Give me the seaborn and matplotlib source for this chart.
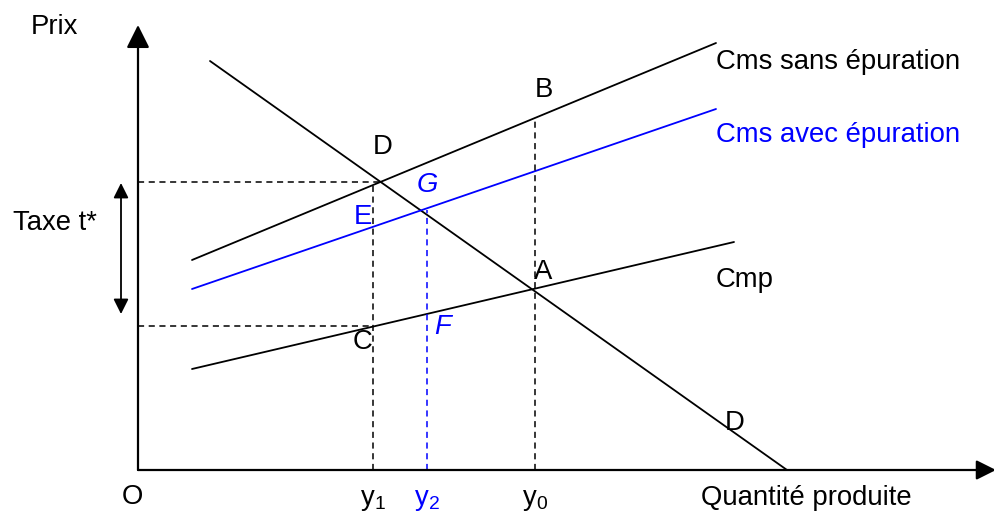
import numpy as np
import pandas as pd
import seaborn as sns
import matplotlib.pyplot as plt

# curves of the diagram (quantity, price), origin at O
demande_x = [72, 649]
demande_y = [409, 0]
cms_sans_x = [54, 578]
cms_sans_y = [210, 427]
cms_avec_x = [54, 578]
cms_avec_y = [181, 361]
cmp_x = [54, 596]
cmp_y = [101, 228]

# guide levels
y1, y2, y0 = 235, 289, 397
prix_haut, prix_bas = 288, 144
prix_d, prix_g, prix_b = 288, 260, 353

if __name__ == '__main__':
    sns.set_theme(style='white')
    plt.rcParams['font.family'] = ['Liberation Sans', 'DejaVu Sans']
    plt.rcParams['text.color'] = 'black'
    plt.rcParams['mathtext.fontset'] = 'custom'
    plt.rcParams['mathtext.rm'] = 'Liberation Sans'
    plt.rcParams['mathtext.it'] = 'Liberation Sans:italic'

    df = pd.DataFrame({
        'x': demande_x + cms_sans_x + cms_avec_x + cmp_x,
        'y': demande_y + cms_sans_y + cms_avec_y + cmp_y,
        'courbe': ['D'] * 2 + ['Cms sans'] * 2 + ['Cms avec'] * 2 + ['Cmp'] * 2,
    })
    pal = {'D': 'black', 'Cms sans': 'black', 'Cms avec': '#0000ff', 'Cmp': 'black'}

    fig = plt.figure(figsize=(9.95, 5.14), dpi=100)
    ax = fig.add_axes([0, 0, 1, 1])
    ax.set_xlim(-138, 857)
    ax.set_ylim(-44, 470)
    ax.axis('off')

    sns.lineplot(ax=ax, data=df, x='x', y='y', hue='courbe', palette=pal,
                 estimator=None, sort=False, legend=False, linewidth=1.3)

    # dashed guides
    dash = dict(linestyle=(0, (4, 3)), linewidth=1.1)
    ax.plot([0, 242], [prix_haut, prix_haut], color='black', **dash)
    ax.plot([0, y1], [prix_bas, prix_bas], color='black', **dash)
    ax.plot([y1, y1], [0, prix_d], color='black', **dash)
    ax.plot([y2, y2], [0, prix_g], color='#0000ff', **dash)
    ax.plot([y0, y0], [0, prix_b], color='black', **dash)

    # axes with arrows
    ax.annotate('', xy=(0, 445), xytext=(0, 0), annotation_clip=False,
                arrowprops=dict(arrowstyle='-|>,head_length=1.4,head_width=0.7',
                                mutation_scale=10, lw=1.6, color='black',
                                shrinkA=0, shrinkB=0))
    ax.annotate('', xy=(858, 0), xytext=(0, 0), annotation_clip=False,
                arrowprops=dict(arrowstyle='-|>,head_length=1.2,head_width=0.6',
                                mutation_scale=10, lw=1.6, color='black',
                                shrinkA=0, shrinkB=0))
    # tax double arrow
    ax.annotate('', xy=(-17, 287), xytext=(-17, 156),
                arrowprops=dict(arrowstyle='<|-|>,head_length=0.9,head_width=0.45',
                                mutation_scale=10, lw=1.3, color='black',
                                shrinkA=0, shrinkB=0))

    fs = 19.8
    blue = '#0000ff'
    txt = dict(fontsize=fs, ha='center', va='center')
    ax.text(-84, 443, 'Prix', **txt)
    ax.text(-83, 247, 'Taxe t*', **txt)
    ax.text(-6, -27, 'O', **txt)
    ax.text(245, 323, 'D', **txt)
    ax.text(289, 285, 'G', color=blue, style='italic', **txt)
    ax.text(225, 253, 'E', color=blue, **txt)
    ax.text(225, 128, 'C', **txt)
    ax.text(305, 143, 'F', color=blue, style='italic', **txt)
    ax.text(405, 198, 'A', **txt)
    ax.text(406, 380, 'B', **txt)
    ax.text(597, 47, 'D', **txt)
    ax.text(y1, -30, r'$\mathregular{y_1}$', **txt)
    ax.text(y2, -30, r'$\mathregular{y_2}$', color=blue, **txt)
    ax.text(y0, -30, r'$\mathregular{y_0}$', **txt)
    ax.text(668, -28, 'Quantité produite', **txt)
    ax.text(578, 408, 'Cms sans épuration', fontsize=fs, ha='left', va='center')
    ax.text(578, 335, 'Cms avec épuration', fontsize=fs, ha='left', va='center', color=blue)
    ax.text(578, 190, 'Cmp', fontsize=fs, ha='left', va='center')

    fig.savefig('out.png', dpi=100)
